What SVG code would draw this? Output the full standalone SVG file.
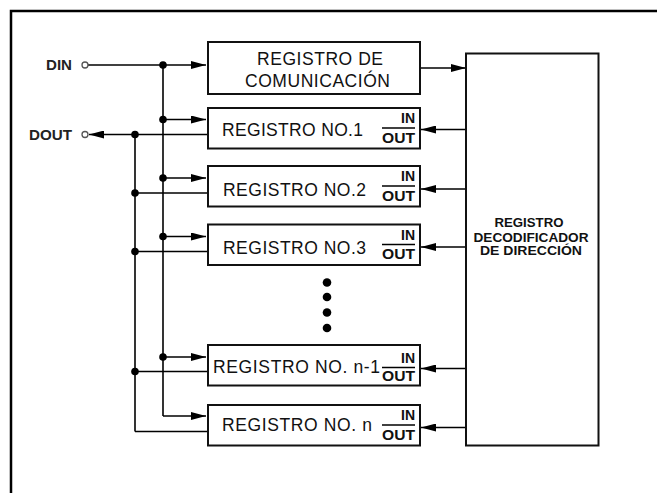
<svg xmlns="http://www.w3.org/2000/svg" width="657" height="493" viewBox="0 0 657 493">
<style>
.frame{fill:none;stroke:#000;stroke-width:2.5}
.box{fill:#fff;stroke:#111;stroke-width:2}
.w{fill:none;stroke:#000;stroke-width:1.6}
.lbl{font-family:"Liberation Sans",Arial,sans-serif;font-size:17.5px;fill:#111}
.io{font-family:"Liberation Sans",Arial,sans-serif;font-size:14px;font-weight:bold;fill:#111}
.pin{font-family:"Liberation Sans",Arial,sans-serif;font-size:14px;font-weight:bold;fill:#222}
.dec{font-family:"Liberation Sans",Arial,sans-serif;font-size:13px;font-weight:bold;fill:#111;text-anchor:middle}
.dot{fill:#000}
.term{fill:#fff;stroke:#555;stroke-width:1.3}
</style>
<defs>
<marker id="ah" markerUnits="userSpaceOnUse" markerWidth="15" markerHeight="8" refX="15" refY="4" orient="auto">
<path d="M0,0 L15,4 L0,8 Z" fill="#000"/>
</marker>
</defs>
<rect width="657" height="493" fill="#fff"/>
<rect class="frame" x="11" y="11" width="670" height="520"/>

<g id="connectors">
<line class="w" x1="88" y1="65" x2="206" y2="65" marker-end="url(#ah)"/>
<line class="w" x1="163" y1="65" x2="163" y2="416"/>
<line class="w" x1="163" y1="119.5" x2="206" y2="119.5" marker-end="url(#ah)"/>
<line class="w" x1="163" y1="178" x2="206" y2="178" marker-end="url(#ah)"/>
<line class="w" x1="163" y1="236.5" x2="206" y2="236.5" marker-end="url(#ah)"/>
<line class="w" x1="163" y1="357" x2="206" y2="357" marker-end="url(#ah)"/>
<line class="w" x1="163" y1="416" x2="206" y2="416" marker-end="url(#ah)"/>
<line class="w" x1="208" y1="134.5" x2="89" y2="134.5" marker-end="url(#ah)"/>
<line class="w" x1="135" y1="134.5" x2="135" y2="431.5"/>
<line class="w" x1="208" y1="193" x2="135" y2="193"/>
<line class="w" x1="208" y1="251.5" x2="135" y2="251.5"/>
<line class="w" x1="208" y1="371.5" x2="135" y2="371.5"/>
<line class="w" x1="208" y1="431.5" x2="135" y2="431.5"/>
<line class="w" x1="420" y1="68" x2="466" y2="68" marker-end="url(#ah)"/>
<line class="w" x1="466" y1="129.5" x2="421" y2="129.5" marker-end="url(#ah)"/>
<line class="w" x1="466" y1="189" x2="421" y2="189" marker-end="url(#ah)"/>
<line class="w" x1="466" y1="247" x2="421" y2="247" marker-end="url(#ah)"/>
<line class="w" x1="466" y1="368.5" x2="421" y2="368.5" marker-end="url(#ah)"/>
<line class="w" x1="466" y1="427.5" x2="421" y2="427.5" marker-end="url(#ah)"/>
<circle class="dot" cx="163" cy="65" r="3.8"/>
<circle class="dot" cx="163" cy="119.5" r="3.8"/>
<circle class="dot" cx="163" cy="178" r="3.8"/>
<circle class="dot" cx="163" cy="236.5" r="3.8"/>
<circle class="dot" cx="163" cy="357" r="3.8"/>
<circle class="dot" cx="135" cy="134.5" r="3.8"/>
<circle class="dot" cx="135" cy="193" r="3.8"/>
<circle class="dot" cx="135" cy="251.5" r="3.8"/>
<circle class="dot" cx="135" cy="371.5" r="3.8"/>
</g>

<g id="din">
<text class="pin" x="46" y="70" textLength="26" lengthAdjust="spacingAndGlyphs">DIN</text>
<circle class="term" cx="85" cy="65" r="3"/>
</g>
<g id="dout">
<text class="pin" x="29" y="139.5" textLength="43" lengthAdjust="spacingAndGlyphs">DOUT</text>
<circle class="term" cx="85" cy="134.5" r="3"/>
</g>

<g id="comm">
<rect class="box" x="208" y="42" width="212" height="52"/>
<text class="lbl" x="257" y="65" textLength="126" lengthAdjust="spacing">REGISTRO DE</text>
<text class="lbl" x="245" y="86.5" textLength="145" lengthAdjust="spacing">COMUNICACIÓN</text>
</g>

<g id="reg1">
<rect class="box" x="208" y="108" width="212" height="40.5"/>
<text class="lbl" x="222" y="136" textLength="141" lengthAdjust="spacing">REGISTRO NO.1</text>
<text class="io" x="415" y="123" text-anchor="end">IN</text>
<line class="w" x1="382" y1="128" x2="415" y2="128"/>
<text class="io" x="382" y="142.5" textLength="33" lengthAdjust="spacingAndGlyphs">OUT</text>
</g>

<g id="reg2">
<rect class="box" x="208" y="166" width="212" height="40.5"/>
<text class="lbl" x="223" y="195.5" textLength="143" lengthAdjust="spacing">REGISTRO NO.2</text>
<text class="io" x="415" y="181" text-anchor="end">IN</text>
<line class="w" x1="382" y1="186" x2="415" y2="186"/>
<text class="io" x="382" y="200.5" textLength="33" lengthAdjust="spacingAndGlyphs">OUT</text>
</g>

<g id="reg3">
<rect class="box" x="208" y="224.5" width="212" height="40.5"/>
<text class="lbl" x="223" y="253.5" textLength="143" lengthAdjust="spacing">REGISTRO NO.3</text>
<text class="io" x="415" y="239.5" text-anchor="end">IN</text>
<line class="w" x1="382" y1="244.5" x2="415" y2="244.5"/>
<text class="io" x="382" y="259" textLength="33" lengthAdjust="spacingAndGlyphs">OUT</text>
</g>

<g id="ellipsis">
<circle class="dot" cx="327" cy="282.5" r="4.3"/>
<circle class="dot" cx="327" cy="297" r="4.3"/>
<circle class="dot" cx="327" cy="312.5" r="4.3"/>
<circle class="dot" cx="327" cy="328" r="4.3"/>
</g>

<g id="regn1">
<rect class="box" x="208" y="345" width="212" height="40.5"/>
<text class="lbl" x="213" y="372.5" textLength="167" lengthAdjust="spacing">REGISTRO NO. n-1</text>
<text class="io" x="415" y="362.5" text-anchor="end">IN</text>
<line class="w" x1="382" y1="367.5" x2="415" y2="367.5"/>
<text class="io" x="382" y="381" textLength="33" lengthAdjust="spacingAndGlyphs">OUT</text>
</g>

<g id="regn">
<rect class="box" x="208" y="405" width="212" height="40.5"/>
<text class="lbl" x="222" y="431" textLength="150" lengthAdjust="spacing">REGISTRO NO. n</text>
<text class="io" x="415" y="420" text-anchor="end">IN</text>
<line class="w" x1="382" y1="425" x2="415" y2="425"/>
<text class="io" x="382" y="439.5" textLength="33" lengthAdjust="spacingAndGlyphs">OUT</text>
</g>

<g id="decoder">
<rect class="box" x="466" y="53.5" width="132.5" height="392"/>
<text class="dec" x="529" y="227" textLength="69" lengthAdjust="spacingAndGlyphs">REGISTRO</text>
<text class="dec" x="531" y="241.5" textLength="115" lengthAdjust="spacingAndGlyphs">DECODIFICADOR</text>
<text class="dec" x="531" y="255" textLength="102" lengthAdjust="spacingAndGlyphs">DE DIRECCIÓN</text>
</g>
</svg>
